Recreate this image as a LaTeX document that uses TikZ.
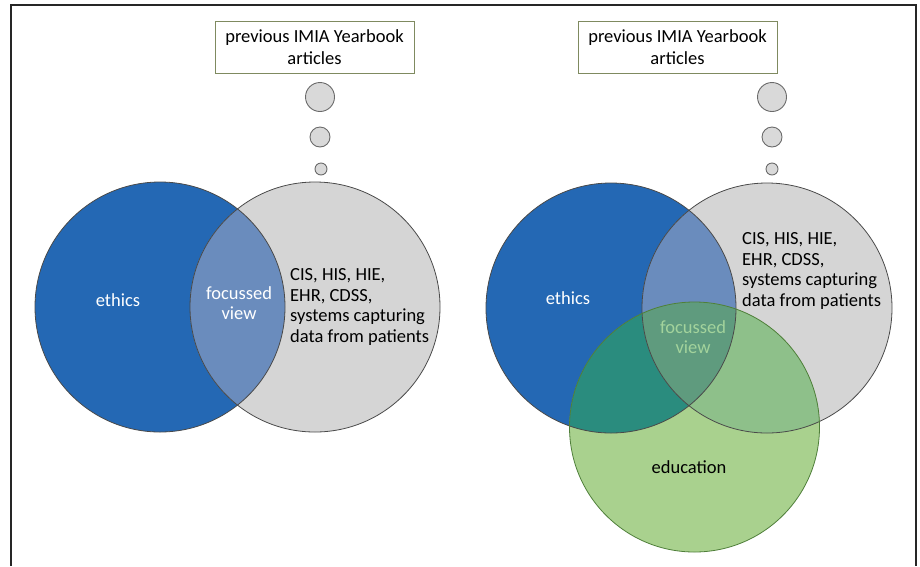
\documentclass[tikz,border=0pt]{standalone}
\usepackage{fontspec}
\setmainfont{Carlito}
\definecolor{blueC}{HTML}{2468B4}
\definecolor{grayC}{HTML}{D5D5D5}
\definecolor{bgC}{HTML}{6A8CBD}
\definecolor{greenC}{HTML}{A9D18E}
\definecolor{bgreenC}{HTML}{2A8C7E}
\definecolor{ggreenC}{HTML}{8EC08A}
\definecolor{tripleC}{HTML}{5F9B7E}
\definecolor{edgeC}{HTML}{4A4A4A}
\definecolor{gedgeC}{HTML}{4F7F3A}
\definecolor{boxC}{HTML}{7F8A60}
\definecolor{bubC}{HTML}{D9D9D9}
\definecolor{bubedgeC}{HTML}{6A6A6A}
\definecolor{focgC}{HTML}{A3D39C}
\tikzset{
  frameline/.style={draw=black!85, line width=1.6pt},
  cedge/.style={draw=edgeC, line width=0.8pt},
  gedge/.style={draw=gedgeC, line width=0.8pt},
  txt/.style={inner sep=0pt, font=\fontsize{18.5}{20.5}\selectfont},
  boxnode/.style={draw=boxC, line width=1pt, fill=white, minimum width=199pt, minimum height=52pt, align=center, inner sep=0pt, font=\fontsize{18.5}{22}\selectfont},
  bubble/.style={circle, draw=bubedgeC, fill=bubC, line width=0.9pt, inner sep=0pt}
}
\begin{document}
\begin{tikzpicture}[x=1pt,y=-1pt]
\useasboundingbox (0,0) rectangle (920,566);
\draw[frameline] (11,566) -- (11,5) -- (916,5) -- (916,566);

% ---------------- left diagram ----------------
\coordinate (eL) at (160,307);
\coordinate (gL) at (315,307);
\fill[blueC] (eL) circle (125pt);
\fill[grayC] (gL) circle (125pt);
\begin{scope}
  \clip (eL) circle (125pt);
  \fill[bgC] (gL) circle (125pt);
\end{scope}
\draw[cedge] (eL) circle (125pt);
\draw[cedge] (gL) circle (125pt);

\node[txt, text=white] (ethicsL) at (118,300) {ethics};
\node[txt, text=white, align=center] (focL) at (239,303) {focussed\\view};
\node[txt, align=left, anchor=west] (sysL) at (290,307) {CIS, HIS, HIE,\\EHR, CDSS,\\systems capturing\\data from patients};

\node[boxnode] (artL) at (314.5,47) {previous IMIA Yearbook\\articles};
\node[bubble, minimum size=29pt] (b1L) at (320,97) {};
\node[bubble, minimum size=20pt] (b2L) at (320,137) {};
\node[bubble, minimum size=12pt] (b3L) at (321,169) {};

% ---------------- right diagram ----------------
\coordinate (eR) at (611,308);
\coordinate (gR) at (767,308);
\coordinate (dR) at (694.5,427);
\fill[blueC] (eR) circle (125pt);
\fill[grayC] (gR) circle (125pt);
\begin{scope}
  \clip (eR) circle (125pt);
  \fill[bgC] (gR) circle (125pt);
\end{scope}
\fill[greenC] (dR) circle (125pt);
\begin{scope}
  \clip (dR) circle (125pt);
  \fill[bgreenC] (eR) circle (125pt);
  \fill[ggreenC] (gR) circle (125pt);
  \clip (eR) circle (125pt);
  \fill[tripleC] (gR) circle (125pt);
\end{scope}
\draw[cedge] (eR) circle (125pt);
\draw[cedge] (gR) circle (125pt);
\draw[gedge] (dR) circle (125pt);

\node[txt, text=white] (ethicsR) at (568,298) {ethics};
\node[txt, text=focgC, align=center] (focR) at (693,337) {focussed\\view};
\node[txt, align=left, anchor=west] (sysR) at (742,271) {CIS, HIS, HIE,\\EHR, CDSS,\\systems capturing\\data from patients};
\node[txt] (eduR) at (689,467) {education};

\node[boxnode] (artR) at (677.5,47) {previous IMIA Yearbook\\articles};
\node[bubble, minimum size=29pt] (b1R) at (772,97) {};
\node[bubble, minimum size=20pt] (b2R) at (772,137) {};
\node[bubble, minimum size=12pt] (b3R) at (772,169) {};
\end{tikzpicture}
\end{document}
